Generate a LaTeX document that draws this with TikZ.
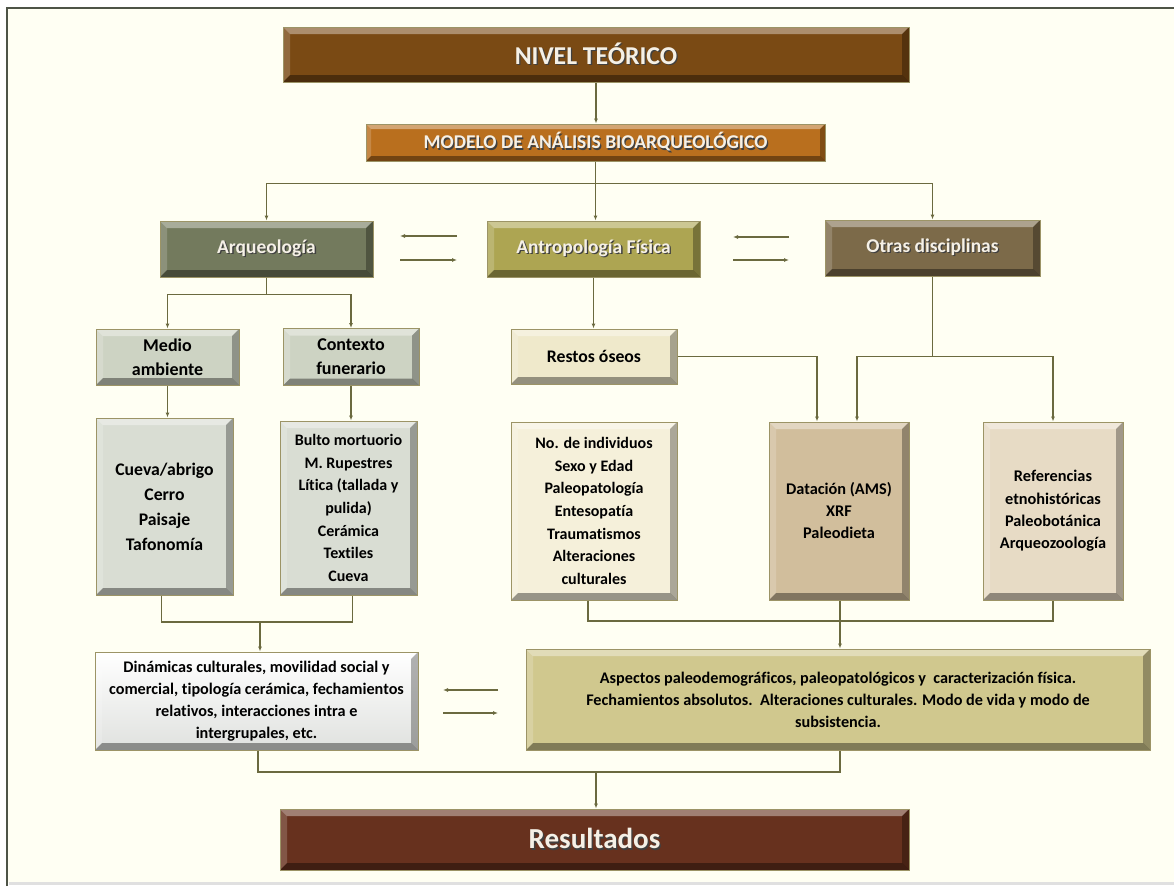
\documentclass[tikz,border=0pt]{standalone}
\usepackage{fontspec}
\setmainfont{Carlito}[Ligatures=NoCommon]
\usetikzlibrary{arrows.meta}

\definecolor{paper}{HTML}{FFFFF3}
\definecolor{frameline}{HTML}{4E5446}
\definecolor{wire}{HTML}{6B6A3F}
\definecolor{edge}{HTML}{9C9466}
\definecolor{titletext}{HTML}{F5F0E6}
\definecolor{cNivel}{HTML}{7A4A14}
\definecolor{cModelo}{HTML}{B96F1E}
\definecolor{cArq}{HTML}{737A5D}
\definecolor{cAntro}{HTML}{ADA552}
\definecolor{cOtras}{HTML}{7C6A49}
\definecolor{cGrisVerde}{HTML}{CDD3C3}
\definecolor{cCrema}{HTML}{EFE9CB}
\definecolor{cGrisClaro}{HTML}{D9DDD3}
\definecolor{cCremaClaro}{HTML}{F5F0DA}
\definecolor{cTostado}{HTML}{D1BE9C}
\definecolor{cArena}{HTML}{E7DBC5}
\definecolor{cBlanco}{HTML}{F3F5F2}
\definecolor{cCaqui}{HTML}{D0C88E}
\definecolor{cResult}{HTML}{67311E}

% white title text with a soft dark drop shadow
\newcommand\shd[1]{\makebox[0pt][l]{\hspace{1.3pt}\raisebox{-1.3pt}{\textcolor{black!75}{#1}}}#1}

\tikzset{
  bevel/.style={path picture={
    \path (path picture bounding box.north west) coordinate (Pnw)
          (path picture bounding box.north east) coordinate (Pne)
          (path picture bounding box.south west) coordinate (Psw)
          (path picture bounding box.south east) coordinate (Pse);
    % top face (light)
    \fill[white,opacity=.38] (Pnw) -- (Pne) -- ([shift={(-#1,-#1)}]Pne) -- ([shift={(#1,-#1)}]Pnw) -- cycle;
    % left face (slightly light)
    \fill[white,opacity=.18] (Pnw) -- ([shift={(#1,-#1)}]Pnw) -- ([shift={(#1,#1)}]Psw) -- (Psw) -- cycle;
    % right face (dark)
    \fill[black,opacity=.30] (Pne) -- (Pse) -- ([shift={(-#1,#1)}]Pse) -- ([shift={(-#1,-#1)}]Pne) -- cycle;
    % bottom face (dark)
    \fill[black,opacity=.38] (Psw) -- (Pse) -- ([shift={(-#1,#1)}]Pse) -- ([shift={(#1,#1)}]Psw) -- cycle;
  }},
  box/.style={draw=edge, line width=1pt, inner sep=2pt, align=center,
              font=\bfseries, bevel=7pt},
  darkbox/.style={box, text=titletext},
  lightbox/.style={box, text=black},
  wireline/.style={draw=wire, line width=1.3pt},
  arr/.style={wireline, -{Latex[length=5pt,width=4pt]}},
}

\begin{document}
\begin{tikzpicture}[x=1pt, y=-1pt]
\useasboundingbox (0,0) rectangle (1174,886);

% page frame
\fill[white] (0,0) rectangle (1174,886);
\fill[paper] (7,8) rectangle (1174,883);
\fill[black!12] (9,882) rectangle (1174,885);
\draw[frameline, line width=2pt] (7,886) -- (7,8) -- (1174,8);

% --- nodes ---
\node[darkbox, fill=cNivel, minimum width=626, minimum height=55,
      font=\bfseries\fontsize{25.7}{30}\selectfont] (nivel) at (596,54.5) {\shd{NIVEL TEÓRICO}};
\node[darkbox, fill=cModelo, minimum width=459, minimum height=37, bevel=5pt,
      font=\bfseries\fontsize{19.5}{22}\selectfont] (modelo) at (595.5,142.5) {\shd{MODELO DE ANÁLISIS BIOARQUEOLÓGICO}};

\node[darkbox, fill=cArq, minimum width=213, minimum height=56,
      font=\bfseries\fontsize{19.5}{22}\selectfont] (arq) at (266.5,249) {\shd{Arqueología}};
\node[darkbox, fill=cAntro, minimum width=213, minimum height=56,
      font=\bfseries\fontsize{19.5}{22}\selectfont] (antro) at (593.5,249) {\shd{Antropología Física}};
\node[darkbox, fill=cOtras, minimum width=215, minimum height=56,
      font=\bfseries\fontsize{19.5}{22}\selectfont] (otras) at (932.5,248) {\shd{Otras disciplinas}};

\node[lightbox, fill=cGrisVerde, minimum width=143, minimum height=56,
      font=\bfseries\fontsize{18}{24}\selectfont] (medio) at (167.5,357) {Medio\\ambiente};
\node[lightbox, fill=cGrisVerde, minimum width=136, minimum height=57,
      font=\bfseries\fontsize{18}{24}\selectfont] (contexto) at (351,357) {Contexto\\funerario};
\node[lightbox, fill=cCrema, minimum width=166, minimum height=55,
      font=\bfseries\fontsize{17.7}{20}\selectfont] (restos) at (594,356.5) {Restos óseos};

\node[lightbox, fill=cGrisClaro, minimum width=137, minimum height=177,
      font=\bfseries\fontsize{17.7}{25}\selectfont] (cueva) at (164.5,506.5)
      {Cueva/abrigo\\Cerro\\Paisaje\\Tafonomía};
\node[lightbox, fill=cGrisClaro, minimum width=137, minimum height=174,
      font=\bfseries\fontsize{16}{22.6}\selectfont] (bulto) at (348.5,508)
      {Bulto mortuorio\\M. Rupestres\\Lítica (tallada y\\pulida)\\Cerámica\\Textiles\\Cueva};
\node[lightbox, fill=cCremaClaro, minimum width=166, minimum height=178,
      font=\bfseries\fontsize{16}{22.6}\selectfont] (indiv) at (594,511)
      {No. de individuos\\Sexo y Edad\\Paleopatología\\Entesopatía\\Traumatismos\\Alteraciones\\culturales};
\node[lightbox, fill=cTostado, minimum width=140, minimum height=178,
      font=\bfseries\fontsize{16.3}{22}\selectfont] (datacion) at (839,511)
      {Datación (AMS)\\XRF\\Paleodieta};
\node[lightbox, fill=cArena, minimum width=140, minimum height=178,
      font=\bfseries\fontsize{16.3}{22.3}\selectfont] (refs) at (1053,511)
      {Referencias\\etnohistóricas\\Paleobotánica\\Arqueozoología};

\node[lightbox, top color=white, bottom color=cBlanco!92!black, draw=edge, minimum width=323, minimum height=98,
      font=\bfseries\fontsize{16.2}{21.8}\selectfont] (dinam) at (256.5,701)
      {Dinámicas culturales, movilidad social y\\comercial, tipología cerámica, fechamientos\\relativos, interacciones intra e\\intergrupales, etc.};
\node[lightbox, fill=cCaqui, minimum width=624, minimum height=101,
      font=\bfseries\fontsize{16.2}{22}\selectfont] (aspectos) at (838,699.5)
      {Aspectos paleodemográficos, paleopatológicos y\ \ caracterización física.\\
       Fechamientos absolutos.\ \ Alteraciones culturales. Modo de vida y modo de\\subsistencia.};

\node[darkbox, fill=cResult, minimum width=629, minimum height=61,
      font=\bfseries\fontsize{29}{32}\selectfont] (result) at (594.5,839.5) {\shd{Resultados}};

% --- free ends of the exchange arrows and junctions ---
\coordinate (x1a) at (457,236); \coordinate (x1b) at (400,236);
\coordinate (x1c) at (400,260); \coordinate (x1d) at (457,260);
\coordinate (x2a) at (789,237); \coordinate (x2b) at (733,237);
\coordinate (x2c) at (733,260); \coordinate (x2d) at (789,260);
\coordinate (x3a) at (498,690); \coordinate (x3b) at (443,690);
\coordinate (x3c) at (443,713); \coordinate (x3d) at (498,713);
\coordinate (j1) at (260,622);
\coordinate (j2) at (840,621);
\coordinate (j3) at (596,772);

% --- connectors ---
\draw[arr] (nivel.south) -- (nivel.south |- modelo.north);
\draw[arr] (modelo.south) -- ++(0,22) -| (arq.north);
\draw[arr] (modelo.south) -- ++(0,22) -| (otras.north);
\draw[arr] (modelo.south) -- (modelo.south |- antro.north);

\draw[arr] (x1a) -- (x1b);
\draw[arr] (x1c) -- (x1d);
\draw[arr] (x2a) -- (x2b);
\draw[arr] (x2c) -- (x2d);

\draw[arr] (arq.south) -- ++(0,17) -| (medio.north);
\draw[arr] (arq.south) -- ++(0,17) -| (contexto.north);
\draw[arr] (medio.south) -- (medio.south |- cueva.north);
\draw[arr] (contexto.south) -- (contexto.south |- bulto.north);

\draw[arr] (antro.south) -- (antro.south |- restos.north);
\draw[arr] (restos.east) -| ([xshift=-22pt]datacion.north);
\draw[arr] (otras.south) -- ++(0,80) -| ([xshift=18pt]datacion.north);
\draw[arr] (otras.south) -- ++(0,80) -| (refs.north);

\draw[wireline] ([xshift=-3pt]cueva.south) |- (j1) -| ([xshift=4pt]bulto.south);
\draw[arr] (j1) -- (j1 |- dinam.north);

\draw[wireline] ([xshift=-6pt]indiv.south) |- (j2) -| (refs.south);
\draw[arr] ([xshift=1pt]datacion.south) -- ([xshift=1pt]datacion.south |- aspectos.north);

\draw[arr] (x3a) -- (x3b);
\draw[arr] (x3c) -- (x3d);

\draw[wireline] ([xshift=1.5pt]dinam.south) |- (j3) -| ([xshift=2pt]aspectos.south);
\draw[arr] (j3) -- (j3 |- result.north);
\end{tikzpicture}
\end{document}
